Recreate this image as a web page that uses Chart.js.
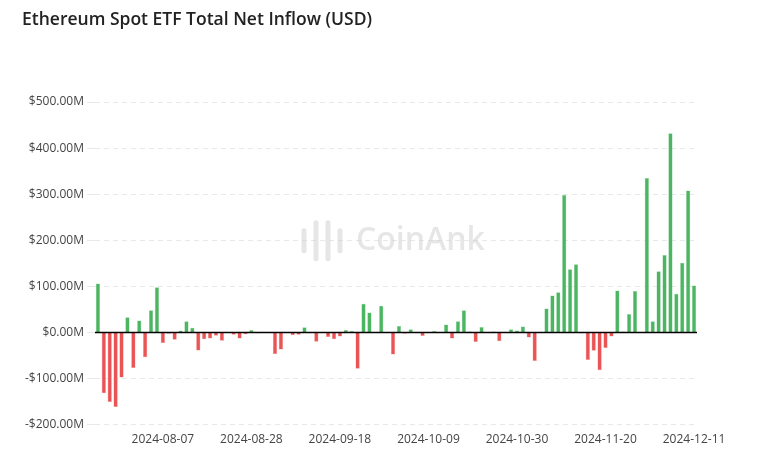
<!DOCTYPE html>
<html><head><meta charset="utf-8">
<script src="https://cdn.jsdelivr.net/npm/chart.js@4"></script>
<style>html,body{margin:0;padding:0;background:#fff}#w{width:774px;height:468px}</style>
</head><body><div id="w"><canvas id="c"></canvas></div>
<script>
const startDate = '2024-07-23', endDate = '2024-12-11';
const tickLabels = ['2024-08-07','2024-08-28','2024-09-18','2024-10-09','2024-10-30','2024-11-20','2024-12-11'];
const flowsM = [106,-132,-151,-162,-98,33,-77,26,-54,48,98,-23,-3,-16,4,24,10,-39,-15,-13,-7,-18,0,-5,-13,-4,5,-2,0,0,-47,-37,0,-6,-5,11,
0,-20,1,-10,-15,-9,5,3,-79,62,43,0,58,0,-48,14,-3,7,0,-8,0,3,0,17,-13,24,48,2,-21,12,0,2,-19,-1,7,4,13,-11,-62,
0,52,80,87,298,137,148,-2,-60,-40,-82,-34,-9,91,2,40,90,0,335,24,133,168,432,84,151,308,102];

const DAY = 86400000, t0 = Date.parse(startDate+'T00:00:00Z'), tEnd = Date.parse(endDate+'T00:00:00Z');
const dates = [];
for (let t = t0; t <= tEnd; t += DAY) {
  const wd = new Date(t).getUTCDay();
  if (wd !== 0 && wd !== 6) dates.push(new Date(t).toISOString().slice(0,10));
}
const values = flowsM.map(v => v*1e6);
const colors = flowsM.map(v => v >= 0 ? '#4cb562' : '#ea5455');

const watermark = {id:'wm', beforeDatasetsDraw(ch){const c=ch.ctx,a=ch.chartArea;c.save();
 const cx=(a.left+a.right)/2, cy=a.top+(a.bottom-a.top)*0.43;
 c.fillStyle='rgba(205,205,205,0.5)';c.strokeStyle='rgba(205,205,205,0.5)';c.lineWidth=5;c.lineCap='round';
 [[-92,-10,10],[-80,-18,18],[-68,-18,18],[-56,-10,10]].forEach(([x,t,b])=>{c.beginPath();c.moveTo(cx+x,cy+t);c.lineTo(cx+x,cy+b);c.stroke();});
 c.font='600 32px "Open Sans"';c.textAlign='left';c.textBaseline='middle';
 c.fillText('CoinAnk',cx-40,cy);c.restore();}};
const zeroLine = {id:'zl', afterDatasetsDraw(ch){const c=ch.ctx,a=ch.chartArea,y=ch.scales.y.getPixelForValue(0);
 c.save();c.strokeStyle='#000';c.lineWidth=1.5;c.beginPath();c.moveTo(a.left,y);c.lineTo(a.right,y);c.stroke();c.restore();}};

new Chart(document.getElementById('c'), {
  type:'bar',
  data:{labels:dates, datasets:[{data:values, backgroundColor:colors, borderColor:colors.map(c=>c+'99'), borderWidth:0.5, barPercentage:0.72, categoryPercentage:1}]},
  options:{
    responsive:true, maintainAspectRatio:false, animation:false,
    layout:{padding:{left:22,right:77,top:10,bottom:21}},
    plugins:{legend:{display:false}, tooltip:{enabled:false},
      title:{display:true, text:'Ethereum Spot ETF Total Net Inflow (USD)', align:'start', color:'#222',
        font:{family:'"Open Sans"', size:17.5, weight:'600'}, padding:{top:0,bottom:71}}},
    scales:{
      x:{grid:{display:false}, border:{display:false},
        ticks:{autoSkip:false, maxRotation:0, padding:0, color:'#444', font:{family:'"Open Sans"', size:12},
          callback(v){const l=this.getLabelForValue(v);return tickLabels.includes(l)?l:null;}}},
      y:{min:-200e6, max:500e6, grid:{color:'#e8e8e8'},
        border:{display:false, dash:[5,4]},
        ticks:{stepSize:100e6, color:'#444', font:{family:'"Open Sans"', size:12},
          callback(v){const m=v/1e6;return (m<0?'-$':'$')+Math.abs(m).toFixed(2)+'M';}}}
    }
  },
  plugins:[watermark, zeroLine]
});
</script></body></html>
